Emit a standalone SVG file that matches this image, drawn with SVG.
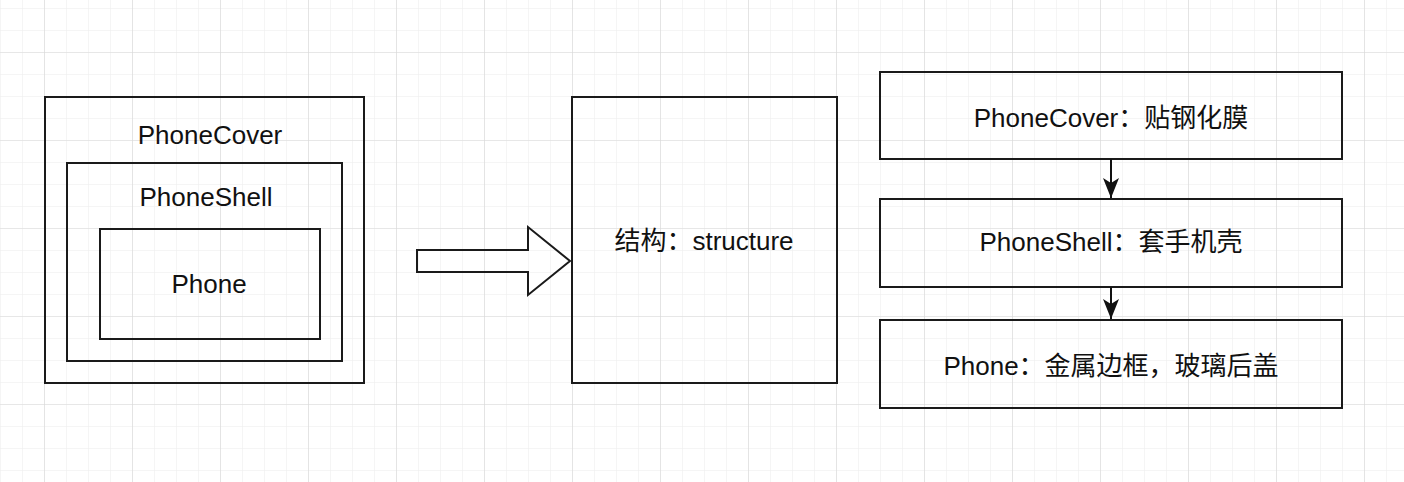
<svg xmlns="http://www.w3.org/2000/svg" width="1404" height="482" viewBox="0 0 1404 482">
  <defs>
    <pattern id="minor" width="22" height="22" patternUnits="userSpaceOnUse" x="0" y="8">
      <path d="M0 0H22M0 0V22" fill="none" stroke="#ebebeb" stroke-width="1"/>
    </pattern>
    <pattern id="major" width="88" height="88" patternUnits="userSpaceOnUse" x="44" y="52">
      <path d="M0 0H88M0 0V88" fill="none" stroke="#d9d9d9" stroke-width="1.2"/>
    </pattern>
    <marker id="arrow" viewBox="0 0 20 16" refX="20" refY="8" markerWidth="20" markerHeight="16" markerUnits="userSpaceOnUse" orient="auto">
      <path d="M0 0L20 8L0 16L5 8Z" fill="#111"/>
    </marker>
    <style>
      .box { fill: none; stroke: #1a1a1a; stroke-width: 2; }
      .lbl { font-family: "Liberation Sans", Arial, "Noto Sans CJK SC", sans-serif; font-size: 26px; fill: #111; text-anchor: middle; }
      .conn { fill: none; stroke: #111; stroke-width: 2; }
    </style>
  </defs>
  <rect width="1404" height="482" fill="#ffffff"/>
  <rect width="1404" height="482" fill="url(#minor)"/>
  <rect width="1404" height="482" fill="url(#major)"/>

  <g id="phonecover-outer">
    <rect class="box" x="45" y="97" width="319" height="286"/>
    <text class="lbl" x="210" y="144">PhoneCover</text>
  </g>
  <g id="phoneshell-inner">
    <rect class="box" x="67" y="163" width="275" height="198"/>
    <text class="lbl" x="206" y="206">PhoneShell</text>
  </g>
  <g id="phone-inner">
    <rect class="box" x="100" y="229" width="220" height="110"/>
    <text class="lbl" x="209" y="293">Phone</text>
  </g>

  <g id="big-arrow">
    <path class="box" d="M417 250H528V227L570 261L528 295V272H417Z"/>
  </g>

  <g id="structure">
    <rect class="box" x="572" y="97" width="265" height="286"/>
    <text class="lbl" x="704" y="250">结构：structure</text>
  </g>

  <g id="cover">
    <rect class="box" x="880" y="72" width="462" height="87"/>
    <text class="lbl" x="1111" y="127">PhoneCover：贴钢化膜</text>
  </g>
  <g id="shell">
    <rect class="box" x="880" y="199" width="462" height="88"/>
    <text class="lbl" x="1111" y="251">PhoneShell：套手机壳</text>
  </g>
  <g id="phone">
    <rect class="box" x="880" y="320" width="462" height="88"/>
    <text class="lbl" x="1111" y="375">Phone：金属边框，玻璃后盖</text>
  </g>

  <g id="connectors">
    <line class="conn" x1="1111" y1="159" x2="1111" y2="198" marker-end="url(#arrow)"/>
    <line class="conn" x1="1111" y1="287" x2="1111" y2="319" marker-end="url(#arrow)"/>
  </g>
</svg>
